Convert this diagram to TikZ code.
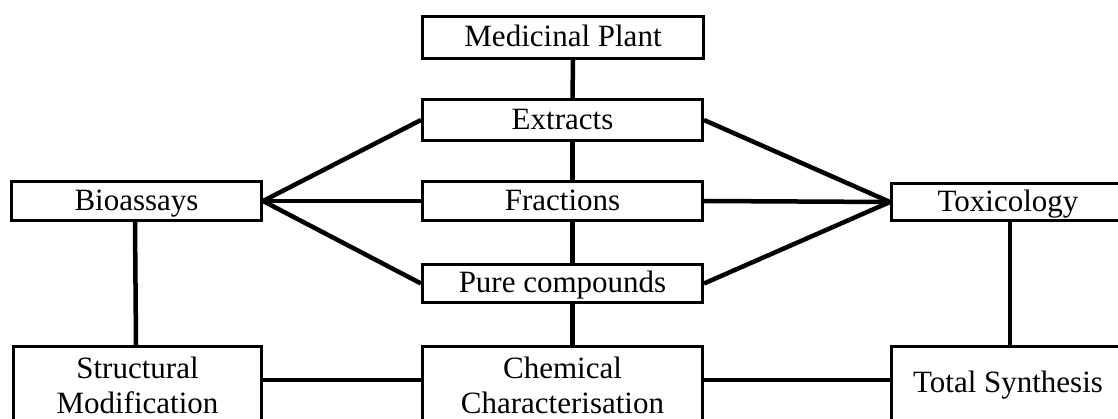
\documentclass[tikz,border=0pt]{standalone}
\usepackage{fontspec}
\setmainfont{Liberation Serif}
\begin{document}
\begin{tikzpicture}[x=1pt,y=-1pt,
  box/.style={draw, line width=3pt, inner sep=0pt, align=center, fill=white,
    font=\fontsize{31}{35}\selectfont},
  one/.style={box, text height=26pt, text depth=7pt},
  link/.style={line width=4.5pt}]
\useasboundingbox (0,0) rectangle (1118,419);
\clip (0,0) rectangle (1118,419);
\node[one, minimum width=281pt, minimum height=42pt] (mp) at (563,37.5) {Medicinal Plant};
\node[one, minimum width=280pt, minimum height=41pt] (ex) at (562.5,120) {Extracts};
\node[one, minimum width=280pt, minimum height=39pt] (fr) at (562.5,201) {Fractions};
\node[one, minimum width=280pt, minimum height=38pt] (pc) at (562.5,283.5) {Pure compounds};
\node[box, minimum width=280pt, minimum height=77pt] (cc) at (562.5,385) {Chemical\\Characterisation};
\node[one, minimum width=250pt, minimum height=39pt] (bio) at (136.5,201) {Bioassays};
\node[box, minimum width=248pt, minimum height=77pt] (sm) at (137.5,385) {Structural\\Modification};
\node[one, minimum width=233pt, minimum height=37pt] (tox) at (1008,202) {Toxicology};
\node[box, minimum width=233pt, minimum height=77pt] (ts) at (1008,385) {Total Synthesis};
% vertical chain
\draw[link] ([xshift=10pt]mp.south) -- ([xshift=10pt]ex.north);
\draw[link] ([xshift=10pt]ex.south) -- ([xshift=10pt]fr.north);
\draw[link] ([xshift=10pt]fr.south) -- ([xshift=10pt]pc.north);
\draw[link] ([xshift=10pt]pc.south) -- ([xshift=10pt]cc.north);
% fans
\draw[link] (bio.east) -- (ex.west);
\draw[link] (bio.east) -- (fr.west);
\draw[link] (bio.east) -- (pc.west);
\draw[link] (ex.east) -- (tox.west);
\draw[link] (fr.east) -- (tox.west);
\draw[link] (pc.east) -- (tox.west);
% side verticals
\draw[link] ([xshift=-1.5pt]bio.south) -- ([xshift=-1.5pt]sm.north);
\draw[link] ([xshift=2pt]tox.south) -- ([xshift=2pt]ts.north);
% bottom horizontals
\draw[link] ([yshift=5pt]sm.east) -- ([yshift=5pt]cc.west);
\draw[link] ([yshift=5pt]cc.east) -- ([yshift=5pt]ts.west);
\end{tikzpicture}
\end{document}
